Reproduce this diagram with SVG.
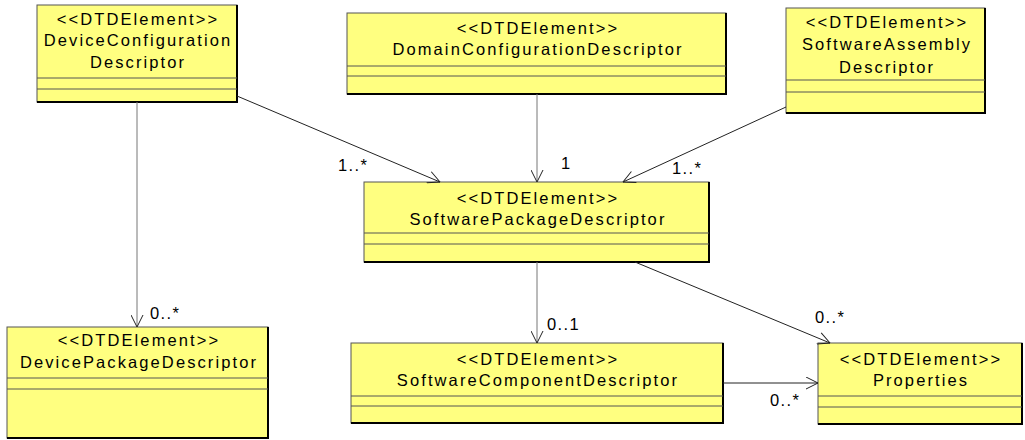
<svg xmlns="http://www.w3.org/2000/svg" width="1025" height="440" viewBox="0 0 1025 440">
  <style>
    .box { fill: #ffff80; stroke: #555; stroke-width: 1; }
    .shadow { fill: none; stroke: #000; stroke-width: 2; }
    .sep { stroke: #555; stroke-width: 1; }
    .name { font-family: "Liberation Sans", Arial, sans-serif; font-size: 16.5px; letter-spacing: 2.1px; fill: #000; text-anchor: middle; }
    .edge { fill: none; stroke: #222; stroke-width: 1; }
    .edge.v { stroke: #777; }
    .mult { font-family: "Liberation Sans", Arial, sans-serif; font-size: 16.5px; letter-spacing: 1.4px; fill: #000; }
  </style>
  <defs>
    <marker id="open" markerUnits="userSpaceOnUse" viewBox="0 0 13 13" refX="12.5" refY="6.5" markerWidth="13" markerHeight="13" orient="auto">
      <path d="M0.5,0.5 L12.5,6.5 L0.5,12.5" fill="none" stroke="#222" stroke-width="1"/>
    </marker>
  </defs>

  <rect width="1025" height="440" fill="#fff"/>

  <!-- class boxes -->
  <g id="DeviceConfigurationDescriptor">
    <rect class="box" x="37" y="5" width="200" height="97"/>
    <polyline class="shadow" points="237,5 237,102 37,102"/>
    <line class="sep" x1="37" y1="78" x2="237" y2="78"/>
    <line class="sep" x1="37" y1="89" x2="237" y2="89"/>
    <text class="name" x="138" y="25">&lt;&lt;DTDElement&gt;&gt;</text>
    <text class="name" x="138" y="46">DeviceConfiguration</text>
    <text class="name" x="138" y="68">Descriptor</text>
  </g>

  <g id="DomainConfigurationDescriptor">
    <rect class="box" x="347" y="13" width="379" height="81"/>
    <polyline class="shadow" points="726,13 726,94 347,94"/>
    <line class="sep" x1="347" y1="66" x2="726" y2="66"/>
    <line class="sep" x1="347" y1="76" x2="726" y2="76"/>
    <text class="name" x="538" y="34">&lt;&lt;DTDElement&gt;&gt;</text>
    <text class="name" x="538" y="55">DomainConfigurationDescriptor</text>
  </g>

  <g id="SoftwareAssemblyDescriptor">
    <rect class="box" x="786" y="8" width="199" height="105"/>
    <polyline class="shadow" points="985,8 985,113 786,113"/>
    <line class="sep" x1="786" y1="80" x2="985" y2="80"/>
    <line class="sep" x1="786" y1="92" x2="985" y2="92"/>
    <text class="name" x="887" y="28">&lt;&lt;DTDElement&gt;&gt;</text>
    <text class="name" x="887" y="50">SoftwareAssembly</text>
    <text class="name" x="887" y="73">Descriptor</text>
  </g>

  <g id="SoftwarePackageDescriptor">
    <rect class="box" x="364" y="182" width="345" height="80"/>
    <polyline class="shadow" points="709,182 709,262 364,262"/>
    <line class="sep" x1="364" y1="233" x2="709" y2="233"/>
    <line class="sep" x1="364" y1="244" x2="709" y2="244"/>
    <text class="name" x="538" y="204">&lt;&lt;DTDElement&gt;&gt;</text>
    <text class="name" x="538" y="225">SoftwarePackageDescriptor</text>
  </g>

  <g id="DevicePackageDescriptor">
    <rect class="box" x="7" y="327" width="261" height="111"/>
    <polyline class="shadow" points="268,327 268,438 7,438"/>
    <line class="sep" x1="7" y1="378" x2="268" y2="378"/>
    <line class="sep" x1="7" y1="389" x2="268" y2="389"/>
    <text class="name" x="139" y="346">&lt;&lt;DTDElement&gt;&gt;</text>
    <text class="name" x="139" y="368">DevicePackageDescriptor</text>
  </g>

  <g id="SoftwareComponentDescriptor">
    <rect class="box" x="351" y="343" width="372" height="80"/>
    <polyline class="shadow" points="723,343 723,423 351,423"/>
    <line class="sep" x1="351" y1="396" x2="723" y2="396"/>
    <line class="sep" x1="351" y1="406" x2="723" y2="406"/>
    <text class="name" x="538" y="365">&lt;&lt;DTDElement&gt;&gt;</text>
    <text class="name" x="538" y="386">SoftwareComponentDescriptor</text>
  </g>

  <g id="Properties">
    <rect class="box" x="818" y="343" width="204" height="81"/>
    <polyline class="shadow" points="1022,343 1022,424 818,424"/>
    <line class="sep" x1="818" y1="396" x2="1022" y2="396"/>
    <line class="sep" x1="818" y1="407" x2="1022" y2="407"/>
    <text class="name" x="921" y="365">&lt;&lt;DTDElement&gt;&gt;</text>
    <text class="name" x="921" y="386">Properties</text>
  </g>

  <!-- associations -->
  <g id="connectors">
    <line class="edge" x1="237" y1="96" x2="440" y2="182" marker-end="url(#open)"/>
    <line class="edge v" x1="537" y1="94" x2="537" y2="182" marker-end="url(#open)"/>
    <line class="edge" x1="786" y1="107" x2="623" y2="182" marker-end="url(#open)"/>
    <line class="edge v" x1="137" y1="102" x2="137" y2="327" marker-end="url(#open)"/>
    <line class="edge v" x1="537" y1="262" x2="537" y2="343" marker-end="url(#open)"/>
    <line class="edge" x1="635" y1="262" x2="830" y2="343" marker-end="url(#open)"/>
    <line class="edge" x1="723" y1="383" x2="818" y2="383" marker-end="url(#open)"/>

    <text class="mult" x="338" y="171">1..*</text>
    <text class="mult" x="561" y="169">1</text>
    <text class="mult" x="672" y="174">1..*</text>
    <text class="mult" x="150" y="319">0..*</text>
    <text class="mult" x="547" y="330">0..1</text>
    <text class="mult" x="815" y="323">0..*</text>
    <text class="mult" x="770" y="406">0..*</text>
  </g>
</svg>
